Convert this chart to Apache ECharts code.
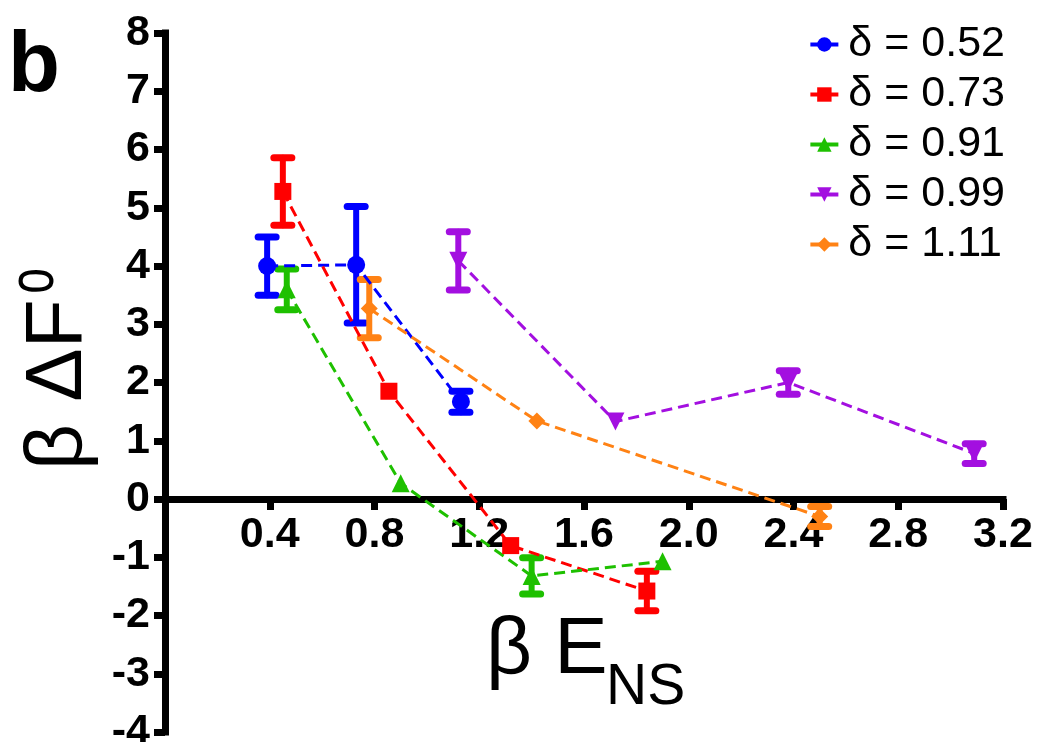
<!DOCTYPE html>
<html>
<head>
<meta charset="utf-8">
<script src="https://cdn.jsdelivr.net/npm/echarts@6/dist/echarts.min.js"></script>
<style>
html,body{margin:0;padding:0;background:#fff;}
#chart{width:1037px;height:742px;}
</style>
</head>
<body>
<div id="chart"></div>
<script>
// ---- data ----
const seriesNames = ['δ = 0.52', 'δ = 0.73', 'δ = 0.91', 'δ = 0.99', 'δ = 1.11'];
const colors = ['#0000ff', '#ff0000', '#1ec000', '#a30fe0', '#ff8214'];

const x052 = [0.39, 0.73, 1.13];
const y052 = [4.00, 4.02, 1.67];
const e052 = [0.50, 1.00, 0.18];

const x073 = [0.45, 0.855, 1.32, 1.84];
const y073 = [5.28, 1.85, -0.80, -1.58];
const e073 = [0.58, 0, 0, 0.34];

const x091 = [0.465, 0.90, 1.40, 1.90];
const y091 = [3.60, 0.27, -1.32, -1.07];
const e091 = [0.35, 0, 0.31, 0];

const x099 = [1.12, 1.72, 2.38, 3.09];
const y099 = [4.09, 1.33, 2.00, 0.78];
const e099 = [0.50, 0, 0.20, 0.17];

const x111 = [0.78, 1.42, 2.50];
const y111 = [3.27, 1.34, -0.30];
const e111 = [0.50, 0, 0.17];

const xTicks = ['0.4', '0.8', '1.2', '1.6', '2.0', '2.4', '2.8', '3.2'];
const yTicks = [-4, -3, -2, -1, 0, 1, 2, 3, 4, 5, 6, 7, 8];

const allX = [x052, x073, x091, x099, x111];
const allY = [y052, y073, y091, y099, y111];
const allE = [e052, e073, e091, e099, e111];
const symbols = ['circle', 'rect', 'triangle', 'triangle', 'diamond'];
const rotates = [0, 0, 0, 180, 0];
const symSizes = [18, 17, 18, 18, 17];

const FONT = 'Liberation Sans';
const GRID_TOP = 33, GRID_BOTTOM = 10, H = 742;
const Y_MIN = -4, Y_MAX = 8;
// distance in px from bottom of grid to y = 0 (x-axis crosses at zero)
const zeroOffset = (H - GRID_TOP - GRID_BOTTOM) * (0 - Y_MIN) / (Y_MAX - Y_MIN);

function errRender(color) {
  return function (params, api) {
    const x = api.value(0), y = api.value(1), e = api.value(2);
    if (!e) return null;
    const t = api.coord([x, y + e]);
    const b = api.coord([x, y - e]);
    const hw = 9;
    const st = {stroke: color, lineWidth: 6, lineCap: 'round'};
    const cs = {stroke: color, lineWidth: 7, lineCap: 'round'};
    return {
      type: 'group',
      children: [
        {type: 'line', shape: {x1: t[0], y1: t[1], x2: b[0], y2: b[1]}, style: st},
        {type: 'line', shape: {x1: t[0] - hw, y1: t[1], x2: t[0] + hw, y2: t[1]}, style: cs},
        {type: 'line', shape: {x1: b[0] - hw, y1: b[1], x2: b[0] + hw, y2: b[1]}, style: cs}
      ]
    };
  };
}

const series = [];
for (let i = 0; i < 5; i++) {
  const errData = allX[i].map((x, j) => [x, allY[i][j], allE[i][j]]);
  series.push({
    type: 'custom',
    renderItem: errRender(colors[i]),
    data: errData,
    encode: {x: 0, y: 1},
    z: 2,
    silent: true
  });
}
for (let i = 0; i < 5; i++) {
  series.push({
    name: seriesNames[i],
    type: 'line',
    data: allX[i].map((x, j) => [x, allY[i][j]]),
    symbol: symbols[i],
    symbolRotate: rotates[i],
    symbolSize: symSizes[i],
    showAllSymbol: true,
    itemStyle: {color: colors[i]},
    lineStyle: {color: colors[i], width: 3, type: [11, 6]},
    z: 3
  });
}

const chart = echarts.init(document.getElementById('chart'));
chart.setOption({
  animation: false,
  backgroundColor: '#ffffff',
  textStyle: {fontFamily: FONT},
  grid: {left: 165, right: 34, top: GRID_TOP, bottom: GRID_BOTTOM, containLabel: false, outerBoundsMode: 'none'},
  legend: {
    data: seriesNames,
    orient: 'vertical',
    right: 27,
    top: 18,
    itemWidth: 28,
    itemHeight: 18,
    itemGap: 7,
    textStyle: {fontSize: 43, color: '#000', fontFamily: FONT, padding: [0, 0, 0, 5]},
    lineStyle: {type: 'solid', width: 4},
    selectedMode: false
  },
  xAxis: {
    type: 'value',
    position: 'bottom',
    offset: -zeroOffset,
    min: 0, max: 3.2, interval: 0.4,
    axisLine: {onZero: false, lineStyle: {color: '#000', width: 7, cap: 'square'}},
    axisTick: {show: true, length: 11, lineStyle: {color: '#000', width: 7}},
    splitLine: {show: false},
    axisLabel: {
      show: true,
      fontSize: 43, fontWeight: 'bold', color: '#000', margin: 15,
      formatter: function (v) {
        const s = Number(v).toFixed(1);
        return xTicks.indexOf(s) >= 0 ? s : '';
      }
    }
  },
  yAxis: {
    type: 'value',
    min: Y_MIN, max: Y_MAX, interval: 1,
    axisLine: {show: true, onZero: false, lineStyle: {color: '#000', width: 7, cap: 'square'}},
    axisTick: {show: true, length: 11, lineStyle: {color: '#000', width: 7}},
    splitLine: {show: false},
    axisLabel: {
      fontSize: 43, fontWeight: 'bold', color: '#000', margin: 15,
      formatter: v => (yTicks.indexOf(v) >= 0 ? String(v) : '')
    }
  },
  graphic: [
    {type: 'text', x: 8, y: 68, style: {text: 'b', font: 'bold 85px "Liberation Sans"', fill: '#000', align: 'left', verticalAlign: 'middle'}},
    {
      type: 'group', x: 59, y: 470, rotation: Math.PI / 2,
      children: [
        {type: 'text', x: 0, y: 0, style: {text: 'β ΔF', font: '80px "Liberation Sans"', fill: '#000', align: 'left', verticalAlign: 'middle'}},
        {type: 'text', x: 189, y: -24, scaleY: 1.4, style: {text: 'o', font: '46px "Liberation Sans"', fill: '#000', align: 'center', verticalAlign: 'middle'}}
      ]
    },
    {type: 'text', x: 486, y: 651, style: {text: 'β E', font: '80px "Liberation Sans"', fill: '#000', align: 'left', verticalAlign: 'middle'}},
    {type: 'text', x: 606, y: 688, style: {text: 'NS', font: '57px "Liberation Sans"', fill: '#000', align: 'left', verticalAlign: 'middle'}}
  ],
  series: series
});
</script>
</body>
</html>
